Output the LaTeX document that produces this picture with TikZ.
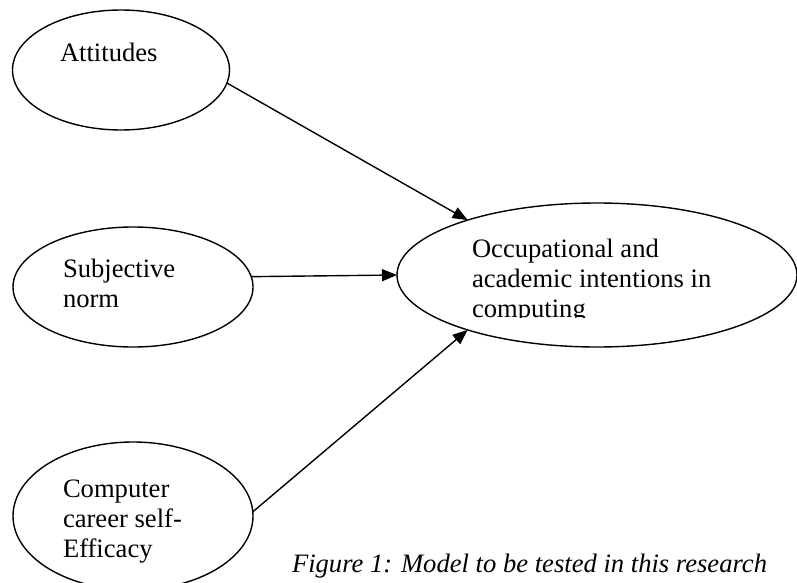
\documentclass[tikz,border=0pt]{standalone}
\usepackage{fontspec}
\setmainfont{Liberation Serif}
\usetikzlibrary{shapes.geometric,arrows.meta}
\begin{document}
\begin{tikzpicture}[x=1pt,y=-1pt,
  oval/.style={draw, ellipse, line width=1.4pt, inner sep=0pt, outer sep=0pt},
  lbl/.style={anchor=base west, inner sep=0pt, outer sep=0pt, align=left, font=\fontsize{26.6}{30}\selectfont},
  arr/.style={line width=1.4pt, -{Triangle[length=15pt,width=12pt]}}]
\useasboundingbox (0,0) rectangle (797,583);
\clip (0,0) rectangle (797,583);
% ellipses
\node[oval, minimum width=217pt, minimum height=120pt] (att) at (121,70) {};
\node[oval, minimum width=240pt, minimum height=120pt] (sub) at (133,287) {};
\node[oval, minimum width=240pt, minimum height=148pt] (comp) at (133,516) {};
\node[oval, minimum width=400pt, minimum height=144pt] (occ) at (597,275) {};
% labels (base = baseline of the last line)
\node[lbl] (atttext) at (60,62) {Attitudes};
\node[lbl] (subtext) at (63,307) {Subjective\\norm};
\node[lbl] (comptext) at (63,557) {Computer\\career self-\\Efficacy};
\begin{scope}
  \clip (460,220) rectangle (760,317);
  \node[lbl] (occtext) at (472,317) {Occupational and\\academic intentions in\\computing};
\end{scope}
\node[lbl, font=\fontsize{26.6}{30}\selectfont\itshape] (caption) at (292,572) {Figure 1: Model to be tested in this research};
% connectors
\draw[arr] (att.-7) -- (occ.157);
\draw[arr] (sub.5) -- (occ.west);
\draw[arr] (comp.2) -- (occ.203);
\end{tikzpicture}
\end{document}
